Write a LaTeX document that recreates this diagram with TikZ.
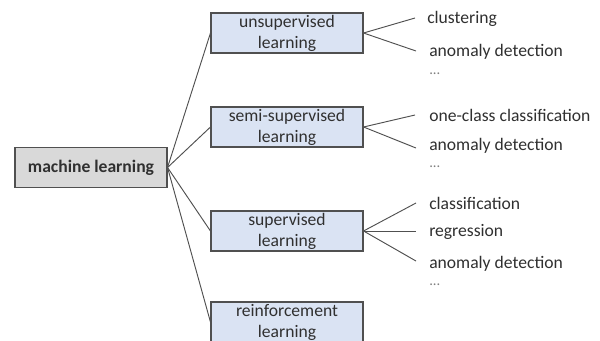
\documentclass[tikz,border=0pt]{standalone}
\usepackage{fontspec}
\setmainfont{Carlito}
\definecolor{boxblue}{HTML}{DAE3F3}
\definecolor{boxgray}{HTML}{D9D9D9}
\definecolor{edge}{HTML}{505050}
\definecolor{ink}{HTML}{303030}
\begin{document}
\begin{tikzpicture}[x=0.75pt,y=-0.75pt,
  every node/.style={text=ink, font=\fontsize{13.2}{15}\selectfont},
  rootbox/.style={draw=edge, fill=boxgray, line width=0.8pt,
    minimum width=114pt, minimum height=30.5pt, inner sep=0pt, font=\fontsize{13.2}{15}\selectfont\bfseries},
  catbox/.style={draw=edge, fill=boxblue, line width=0.8pt,
    minimum width=114pt, minimum height=30pt, inner sep=0pt, align=center,
    font=\fontsize{13.2}{15.8}\selectfont},
  item/.style={anchor=west, inner sep=0pt},
  dots/.style={anchor=base west, inner sep=0pt, text height=1.5pt, text depth=0pt,
    text=gray, font=\fontsize{11}{12}\selectfont},
  link/.style={draw=edge, line width=0.7pt}]
\useasboundingbox (0,0) rectangle (600,340);
\clip (0,0) rectangle (600,340);
\fill[white] (0,0) rectangle (600,340);

% root and categories
\node[rootbox] (ml) at (91,167.5) {machine learning};
\node[catbox] (uns) at (287,33) {unsupervised\\learning};
\node[catbox] (semi) at (287,127) {semi-supervised\\learning};
\node[catbox] (sup) at (287,231) {supervised\\learning};
\node[catbox] (rl) at (287,322) {reinforcement\\learning};

\foreach \c in {uns,semi,sup,rl} \draw[link] (ml.east) -- (\c.west);

% leaf end points of the right-hand branches
\coordinate (u1) at (415,18);
\coordinate (u2) at (416,51);
\coordinate (s1) at (415,115);
\coordinate (s2) at (416,148);
\coordinate (p1) at (416,203);
\coordinate (p2) at (416,231);
\coordinate (p3) at (416,261);

\draw[link] (uns.east) -- (u1);
\draw[link] (uns.east) -- (u2);
\draw[link] (semi.east) -- (s1);
\draw[link] (semi.east) -- (s2);
\draw[link] (sup.east) -- (p1);
\draw[link] (sup.east) -- (p2);
\draw[link] (sup.east) -- (p3);

% leaf labels
\node[item] (t1) at (427,19) {clustering};
\node[item] (t2) at (429,52) {anomaly detection};
\node[dots] (t3) at (429,74) {...};
\node[item] (t4) at (429,115) {one-class classification};
\node[item] (t5) at (429,146) {anomaly detection};
\node[dots] (t6) at (429,167) {...};
\node[item] (t7) at (429,203) {classification};
\node[item] (t8) at (429,232) {regression};
\node[item] (t9) at (429,264) {anomaly detection};
\node[dots] (t10) at (429,285) {...};
\end{tikzpicture}
\end{document}
